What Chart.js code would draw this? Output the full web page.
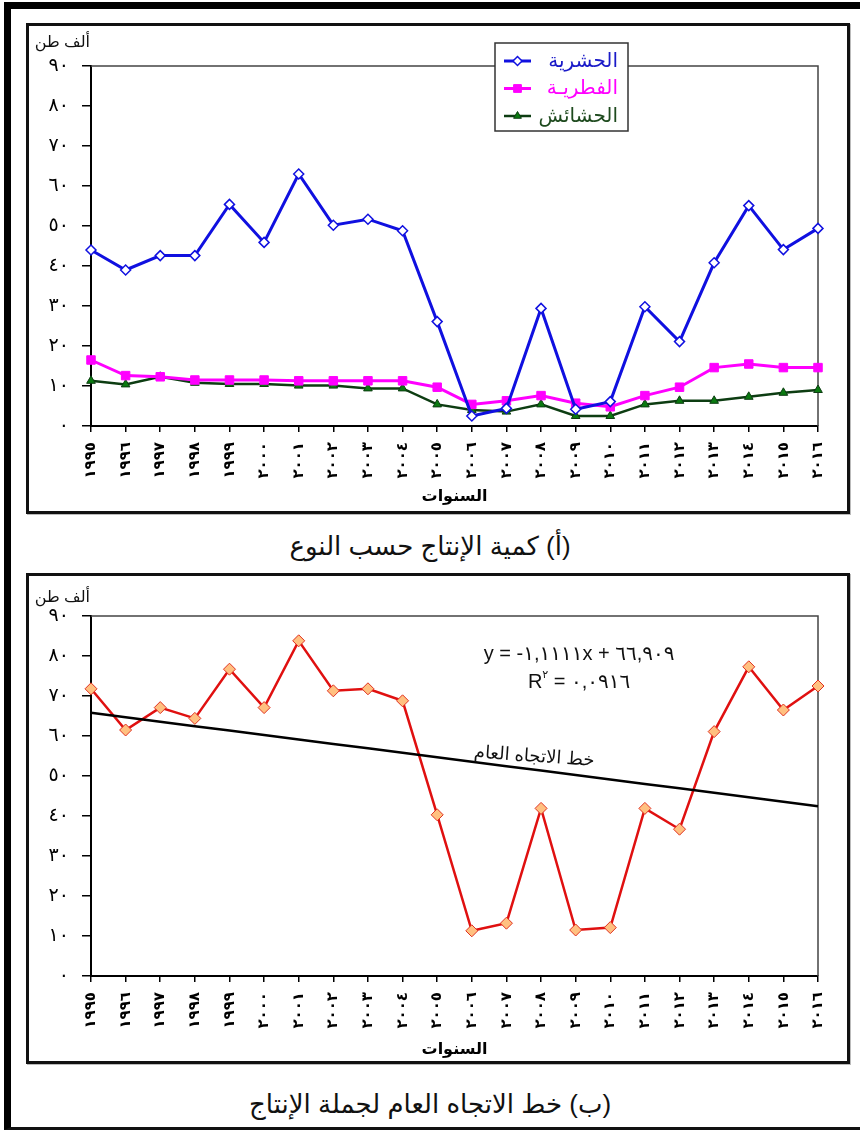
<!DOCTYPE html>
<html lang="ar">
<head>
<meta charset="utf-8">
<title>إنتاج المبيدات</title>
<script src="https://cdn.jsdelivr.net/npm/chart.js@4.4.1/dist/chart.umd.min.js"></script>
<style>
  html, body { margin: 0; padding: 0; background: #fff; }
  body { width: 860px; height: 1130px; position: relative; overflow: hidden;
         font-family: 'Liberation Sans', 'DejaVu Sans', sans-serif; color: #111; }
  .frame { position: absolute; left: 4px; top: 2px; width: 900px; height: 1118px;
           border-left: 7px solid #000; border-top: 7px solid #000; border-bottom: 3px solid #111; }
  .box { position: absolute; left: 26px; width: 818px; height: 485px;
         border: 3px solid #111; box-shadow: 1px 1px 0 #bbb; background: #fff; }
  .cap { position: absolute; left: 0; width: 860px; text-align: center; direction: rtl;
         font-size: 26px; line-height: 30px; }
  canvas { position: absolute; left: 29px; }
</style>
</head>
<body>
<div class="frame"></div>
<div class="box" style="top:23px"></div>
<div class="box" style="top:573px"></div>
<canvas id="byType" width="817" height="484" style="top:26px"></canvas>
<canvas id="total" width="817" height="484" style="top:576px"></canvas>
<div class="cap" style="top:531px">(أ) كمية الإنتاج حسب النوع</div>
<div class="cap" style="top:1089px">(ب) خط الاتجاه العام لجملة الإنتاج</div>

<script>
// Years on the horizontal axis
const years = ['١٩٩٥','١٩٩٦','١٩٩٧','١٩٩٨','١٩٩٩','٢٠٠٠','٢٠٠١','٢٠٠٢','٢٠٠٣','٢٠٠٤','٢٠٠٥',
               '٢٠٠٦','٢٠٠٧','٢٠٠٨','٢٠٠٩','٢٠١٠','٢٠١١','٢٠١٢','٢٠١٣','٢٠١٤','٢٠١٥','٢٠١٦'];

// Production by type (thousand tonnes)
const insecticides = [44.0, 39.0, 42.6, 42.6, 55.4, 45.9, 63.0, 50.2, 51.7, 48.8, 26.1,
                      2.5, 4.4, 29.4, 4.2, 6.1, 29.8, 21.1, 40.8, 55.1, 44.1, 49.4];
const fungicides   = [16.5, 12.6, 12.3, 11.5, 11.5, 11.5, 11.3, 11.3, 11.3, 11.3, 9.7,
                      5.4, 6.3, 7.6, 5.7, 4.8, 7.6, 9.7, 14.6, 15.5, 14.6, 14.6];
const herbicides   = [11.3, 10.4, 12.3, 10.8, 10.5, 10.5, 10.1, 10.1, 9.4, 9.4, 5.4,
                      4.0, 3.6, 5.4, 2.5, 2.5, 5.4, 6.3, 6.3, 7.3, 8.3, 9.0];

// Total production (thousand tonnes)
const totalProduction = [71.8, 61.5, 67.1, 64.4, 76.7, 67.1, 83.8, 71.3, 71.8, 68.8, 40.3,
                         11.3, 13.2, 41.9, 11.5, 12.1, 41.9, 36.7, 61.1, 77.3, 66.5, 72.5];

// Linear trend of the total: y = slope * x + intercept, x = 1 for the first year
const trendSlope = -1.1111;
const trendIntercept = 66.909;
const trendR2 = 0.0916;

// Labels
const seriesNames = ['الحشرية', 'الفطريـة', 'الحشائش'];
const yTickLabels = ['٠','١٠','٢٠','٣٠','٤٠','٥٠','٦٠','٧٠','٨٠','٩٠'];
const unitText = 'ألف طن';
const xTitleText = 'السنوات';
const trendText = 'خط الاتجاه العام';

const FONT = "'Liberation Sans', 'DejaVu Sans', sans-serif";
Chart.defaults.font.family = FONT;
Chart.defaults.color = '#000';

const toArabicDigits = s => String(s).replace(/[0-9]/g, d => '٠١٢٣٤٥٦٧٨٩'[d]).replace('.', ',');

// Thin frame on the top and right sides of the plot area
const plotFrame = {
  id: 'plotFrame',
  beforeDatasetsDraw(chart) {
    const { ctx, chartArea: a } = chart;
    ctx.save();
    ctx.strokeStyle = '#444';
    ctx.lineWidth = 1.5;
    ctx.beginPath();
    ctx.moveTo(a.left, a.top);
    ctx.lineTo(a.right, a.top);
    ctx.lineTo(a.right, a.bottom);
    ctx.stroke();
    ctx.restore();
  }
};

// Unit caption above the value axis
const unitLabel = {
  id: 'unitLabel',
  afterDraw(chart, args, opts) {
    const { ctx, chartArea: a } = chart;
    ctx.save();
    ctx.font = '16px ' + FONT;
    ctx.fillStyle = '#111';
    ctx.textAlign = 'right';
    ctx.textBaseline = 'middle';
    ctx.fillText(opts.text, a.left - 1, a.top - opts.rise);
    ctx.restore();
  }
};

// Boxed legend laid over the top edge of the plot
const boxLegend = {
  id: 'boxLegend',
  afterDraw(chart, args, opts) {
    if (!opts.show) return;
    const { ctx } = chart;
    const { left, top, width, height, firstRow, rowGap } = opts;
    ctx.save();
    ctx.fillStyle = '#fff';
    ctx.strokeStyle = '#333';
    ctx.lineWidth = 1.5;
    ctx.fillRect(left, top, width, height);
    ctx.strokeRect(left, top, width, height);
    chart.data.datasets.forEach((ds, i) => {
      const cy = top + firstRow + i * rowGap;
      const x0 = left + 9, x1 = left + 36;
      ctx.strokeStyle = ds.borderColor;
      ctx.lineWidth = ds.borderWidth;
      ctx.beginPath();
      ctx.moveTo(x0, cy);
      ctx.lineTo(x1, cy);
      ctx.stroke();
      ctx.fillStyle = ds.pointBackgroundColor;
      ctx.strokeStyle = ds.pointBorderColor;
      ctx.lineWidth = ds.pointBorderWidth;
      Chart.helpers.drawPoint(ctx, { pointStyle: ds.pointStyle, radius: ds.pointRadius - 0.5,
                                     borderWidth: ds.pointBorderWidth, rotation: 0 }, (x0 + x1) / 2, cy);
      ctx.fillStyle = ds.textColor;
      ctx.font = '20px ' + FONT;
      ctx.textAlign = 'right';
      ctx.textBaseline = 'middle';
      ctx.fillText(ds.label, left + width - 10, cy);
    });
    ctx.restore();
  }
};

// Trend equation and trend-line caption
const trendNotes = {
  id: 'trendNotes',
  afterDatasetsDraw(chart, args, opts) {
    if (!opts.show) return;
    const { ctx, scales: { x, y } } = chart;
    ctx.save();
    ctx.fillStyle = '#111';
    ctx.textBaseline = 'middle';
    const cx = x.getPixelForValue(opts.eqAt);
    // first line: regression equation
    ctx.font = '20px ' + FONT;
    ctx.textAlign = 'center';
    const eq = 'y = -' + toArabicDigits(Math.abs(trendSlope).toFixed(4)) + 'x + ' +
               toArabicDigits(trendIntercept.toFixed(3));
    ctx.fillText(eq, cx, y.getPixelForValue(opts.eqLine1));
    // second line: R² with raised index
    const y2 = y.getPixelForValue(opts.eqLine2);
    const rPart = 'R', sup = '٢', rest = ' = ' + toArabicDigits(trendR2.toFixed(4));
    ctx.font = '20px ' + FONT;
    const wR = ctx.measureText(rPart).width, wRest = ctx.measureText(rest).width;
    ctx.font = '11px ' + FONT;
    const wSup = ctx.measureText(sup).width;
    const sx = cx - (wR + wSup + wRest) / 2;
    ctx.textAlign = 'left';
    ctx.font = '20px ' + FONT;
    ctx.fillText(rPart, sx, y2);
    ctx.font = '11px ' + FONT;
    ctx.fillText(sup, sx + wR, y2 - 7);
    ctx.font = '20px ' + FONT;
    ctx.fillText(rest, sx + wR + wSup, y2);
    // caption along the trend line
    ctx.translate(x.getPixelForValue(opts.labelAt), y.getPixelForValue(opts.labelValue));
    ctx.rotate(opts.labelAngle * Math.PI / 180);
    ctx.textAlign = 'center';
    ctx.font = '18px ' + FONT;
    ctx.fillText(trendText, 0, 0);
    ctx.restore();
  }
};

function axes(titlePad) {
  return {
    x: {
      type: 'category',
      offset: false,
      grid: { display: true, drawOnChartArea: false, drawTicks: true, tickLength: 6, color: '#000', lineWidth: 1.5 },
      border: { display: true, color: '#000', width: 2 },
      ticks: { autoSkip: false, minRotation: 90, maxRotation: 90, padding: 10,
               font: { size: 15, weight: 'bold' }, color: '#000' },
      title: { display: true, text: xTitleText, color: '#000',
               font: { size: 16, weight: 'bold' }, padding: { top: 0, bottom: titlePad } },
      afterFit(scale) { scale.height = 84; }
    },
    y: {
      min: 0, max: 90,
      grid: { display: true, drawOnChartArea: false, drawTicks: true, tickLength: 9, color: '#000', lineWidth: 1.5 },
      border: { display: true, color: '#000', width: 2 },
      ticks: { stepSize: 10, padding: 13, font: { size: 19 }, color: '#000',
               callback: v => yTickLabels[Math.round(v / 10)] },
      afterFit(scale) { scale.width = 62; }
    }
  };
}

const baseOptions = (extraPlugins, titlePad) => ({
  responsive: false,
  animation: false,
  events: [],
  layout: { padding: { left: 0, right: 28, top: 40, bottom: 0 } },
  scales: axes(titlePad),
  plugins: Object.assign({ legend: { display: false }, tooltip: { enabled: false } }, extraPlugins)
});

// (أ) production by type
new Chart(document.getElementById('byType'), {
  type: 'line',
  data: {
    labels: years,
    datasets: [
      { label: seriesNames[0], data: insecticides, borderColor: '#1010e0', borderWidth: 3,
        pointStyle: 'rectRot', pointRadius: 5, pointBackgroundColor: '#fff', pointBorderColor: '#1010e0',
        pointBorderWidth: 1.5, textColor: '#1a1ac8', clip: false, tension: 0 },
      { label: seriesNames[1], data: fungicides, borderColor: '#ff00ff', borderWidth: 3,
        pointStyle: 'rect', pointRadius: 6, pointBackgroundColor: '#ff00ff', pointBorderColor: '#ff00ff',
        pointBorderWidth: 1, textColor: '#ff00ff', clip: false, tension: 0 },
      { label: seriesNames[2], data: herbicides, borderColor: '#0d3d12', borderWidth: 2.5,
        pointStyle: 'triangle', pointRadius: 5, pointBackgroundColor: '#0a7a10', pointBorderColor: '#0d3d12',
        pointBorderWidth: 1, textColor: '#1e4a1e', clip: false, tension: 0 }
    ]
  },
  options: baseOptions({
    unitLabel: { text: unitText, rise: 23 },
    boxLegend: { show: true, left: 466, top: 17, width: 133, height: 88, firstRow: 18, rowGap: 27.5 },
    trendNotes: { show: false }
  }, 4),
  plugins: [plotFrame, unitLabel, boxLegend, trendNotes]
});

// (ب) total production with its linear trend
const trendLine = years.map((_, i) => trendSlope * (i + 1) + trendIntercept);

new Chart(document.getElementById('total'), {
  type: 'line',
  data: {
    labels: years,
    datasets: [
      { label: trendText, data: trendLine, borderColor: '#000', borderWidth: 2.5,
        pointRadius: 0, clip: false, tension: 0 },
      { label: 'جملة الإنتاج', data: totalProduction, borderColor: '#e01010', borderWidth: 2.5,
        pointStyle: 'rectRot', pointRadius: 6, pointBackgroundColor: '#ffc080', pointBorderColor: '#e03020',
        pointBorderWidth: 1, clip: false, tension: 0 }
    ]
  },
  options: baseOptions({
    unitLabel: { text: unitText, rise: 18 },
    boxLegend: { show: false },
    trendNotes: { show: true, eqAt: 14.1, eqLine1: 80.3, eqLine2: 73.5,
                  labelAt: 12.8, labelValue: 54.8, labelAngle: 4 }
  }, 1),
  plugins: [plotFrame, unitLabel, boxLegend, trendNotes]
});
</script>
</body>
</html>
